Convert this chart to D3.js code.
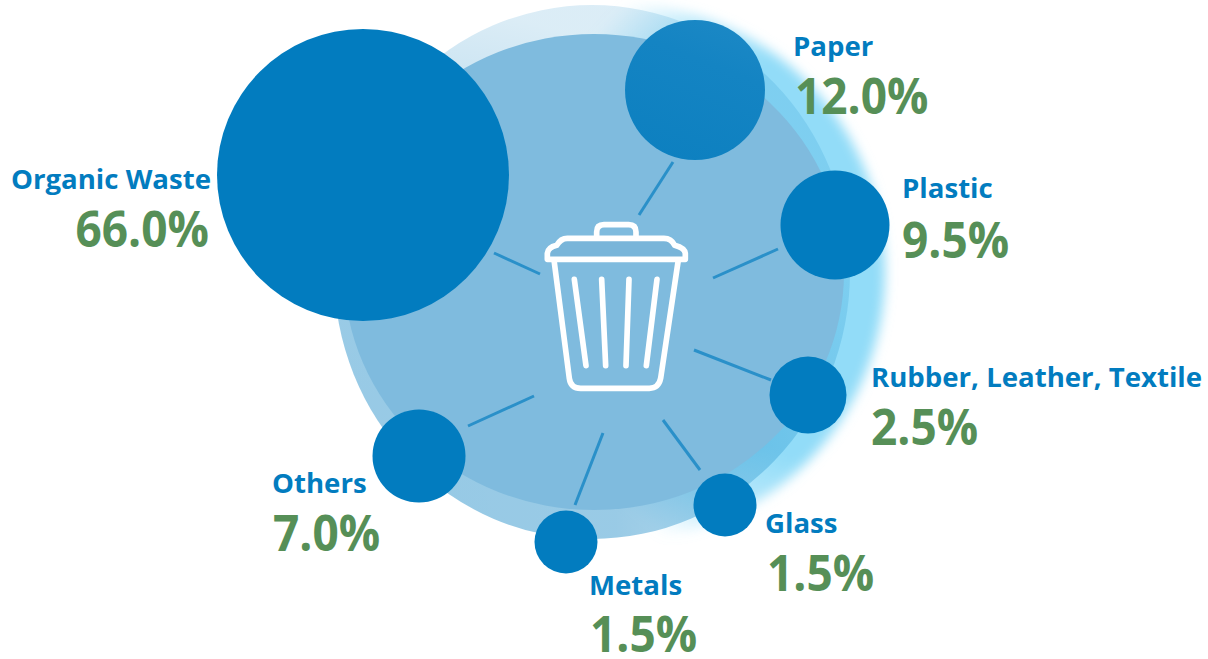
<!DOCTYPE html>
<html>
<head>
<meta charset="utf-8">
<script src="https://cdn.jsdelivr.net/npm/d3@7"></script>
<style>
html,body{margin:0;padding:0;background:#fff}
svg{display:block}
text{font-family:"Open Sans","Noto Sans",sans-serif;font-weight:700}
</style>
</head>
<body>
<svg id="chart" width="1208" height="659"></svg>
<script>
// Composition of municipal waste, as percentage shares
const categories = ["Organic Waste", "Paper", "Plastic", "Rubber, Leather, Textile", "Glass", "Metals", "Others"];
const shares = [66.0, 12.0, 9.5, 2.5, 1.5, 1.5, 7.0];

// Placement of each category around the bin: bubble centre, spoke ends, label anchor
const layout = {
  "Organic Waste":            {cx:363, cy:175, spoke:[[494,253],[540,274]], lx:211, ly:189, vx:209, vy:247, anchor:"end"},
  "Paper":                    {cx:695, cy:90,  spoke:[[673,162],[639,215]], lx:793, ly:56,  vx:795, vy:114, anchor:"start"},
  "Plastic":                  {cx:835, cy:225, spoke:[[778,249],[713,278]], lx:902, ly:198, vx:902, vy:258, anchor:"start"},
  "Rubber, Leather, Textile": {cx:808, cy:395, spoke:[[771,380],[694,350]], lx:871, ly:387, vx:871, vy:445, anchor:"start"},
  "Glass":                    {cx:725, cy:505, spoke:[[700,470],[663,420]], lx:765, ly:533, vx:767, vy:591, anchor:"start"},
  "Metals":                   {cx:566, cy:542, spoke:[[575,505],[603,433]], lx:589, ly:595, vx:590, vy:652, anchor:"start"},
  "Others":                   {cx:419, cy:456, spoke:[[468,426],[534,396]], lx:272, ly:493, vx:273, vy:551, anchor:"start"}
};

const BLUE = "#027cbf", GREEN = "#568f57";
const radius = d3.scaleLinear()
  .domain([1.5, 2.5, 7, 9.5, 12, 66])
  .range([31.5, 38.5, 46.5, 54.5, 70, 146]);

const rows = categories.map((name, i) => ({name, value: shares[i], ...layout[name]}));
const svg = d3.select("#chart");
const defs = svg.append("defs");

defs.append("filter").attr("id", "soft")
  .attr("x", "-10%").attr("y", "-10%").attr("width", "120%").attr("height", "120%")
  .append("feGaussianBlur").attr("stdDeviation", 6);

// Halo strongest on the right-hand side, dying away towards the top and bottom
const glowFill = defs.append("radialGradient").attr("id", "glowFill")
  .attr("gradientUnits", "userSpaceOnUse")
  .attr("cx", 860).attr("cy", 255).attr("r", 345);
[[0, 1], [0.62, 1], [0.82, 0.6], [1, 0]]
  .forEach(([o, a]) => glowFill.append("stop").attr("offset", o)
    .attr("stop-color", "#92dcf8").attr("stop-opacity", a));

// Ring is densest at the lower left and thins out towards the upper right
const ringFill = defs.append("radialGradient").attr("id", "ringFill")
  .attr("gradientUnits", "userSpaceOnUse")
  .attr("cx", 400).attr("cy", 520).attr("r", 515);
[[0, 0.41], [0.42, 0.4], [1, 0.14]]
  .forEach(([o, a]) => ringFill.append("stop").attr("offset", o)
    .attr("stop-color", "#007cc0").attr("stop-opacity", a));

const paperFill = defs.append("linearGradient").attr("id", "paperFill")
  .attr("x1", 0.7).attr("y1", 0).attr("x2", 0.3).attr("y2", 1);
[[0, "#1b88c5"], [0.3, "#1484c3"], [1, "#0d80c0"]]
  .forEach(([o, c]) => paperFill.append("stop").attr("offset", o).attr("stop-color", c));

// Backdrop: cyan halo, translucent ring, inner disc
svg.append("ellipse").attr("cx", 621).attr("cy", 272).attr("rx", 264).attr("ry", 268)
  .attr("fill", "url(#glowFill)").attr("filter", "url(#soft)");
svg.append("ellipse").attr("cx", 592).attr("cy", 272).attr("rx", 258).attr("ry", 267)
  .attr("fill", "url(#ringFill)");
svg.append("ellipse").attr("cx", 594).attr("cy", 272).attr("rx", 250).attr("ry", 238)
  .attr("fill", "#7fbbde");

// Spokes from the bin towards each bubble
svg.append("g").selectAll("line").data(rows).join("line")
  .attr("x1", d => d.spoke[0][0]).attr("y1", d => d.spoke[0][1])
  .attr("x2", d => d.spoke[1][0]).attr("y2", d => d.spoke[1][1])
  .attr("stroke", "#2a90c9").attr("stroke-width", 3);

// Bubbles
svg.append("g").selectAll("circle").data(rows).join("circle")
  .attr("cx", d => d.cx).attr("cy", d => d.cy)
  .attr("r", d => radius(d.value))
  .attr("fill", d => d.name === "Paper" ? "url(#paperFill)" : BLUE);

// Bin icon, drawn on a 3x grid so the curves stay simple
const bin = svg.append("g")
  .attr("transform", "translate(530,210) scale(0.3333)")
  .attr("fill", "none").attr("stroke", "#fff").attr("stroke-width", 17)
  .attr("stroke-linecap", "round").attr("stroke-linejoin", "round");
bin.append("path").attr("d", "M56,147 L56,130 Q58,112 80,106 Q92,85 112,85 L402,85 Q424,85 434,106 Q462,114 464,130 L464,147")
  .attr("fill", "#79b5d9").attr("stroke", "none");
bin.append("path").attr("d", "M52,148 L52,130 Q54,112 80,106 Q92,85 112,85 L402,85 Q424,85 434,106 Q464,114 466,130 L466,148 Z");
bin.append("path").attr("d", "M200,82 L200,66 Q200,44 222,44 L296,44 Q318,44 318,66 L318,82");
bin.append("path").attr("d", "M72,150 L118,505 Q122,535 152,535 L358,535 Q386,535 392,505 L445,150");
[[133, 208, 168, 467], [215, 208, 227, 467], [297, 208, 288, 467], [381, 208, 349, 467]]
  .forEach(([x1, y1, x2, y2]) => bin.append("line")
    .attr("x1", x1).attr("y1", y1).attr("x2", x2).attr("y2", y2));

// Category names and shares; the share figures are set slightly condensed
svg.append("g").selectAll("text").data(rows).join("text")
  .attr("x", d => d.lx).attr("y", d => d.ly)
  .attr("text-anchor", d => d.anchor)
  .attr("font-size", 27.6).attr("fill", BLUE)
  .text(d => d.name);

svg.append("g").selectAll("text").data(rows).join("text")
  .attr("x", d => d.vx).attr("y", d => d.vy)
  .attr("text-anchor", d => d.anchor)
  .attr("font-size", 50).attr("fill", GREEN)
  .text(d => d3.format(".1f")(d.value) + "%")
  .each(function () {
    d3.select(this)
      .attr("lengthAdjust", "spacingAndGlyphs")
      .attr("textLength", this.getComputedTextLength() * 0.92);
  });
</script>
</body>
</html>
